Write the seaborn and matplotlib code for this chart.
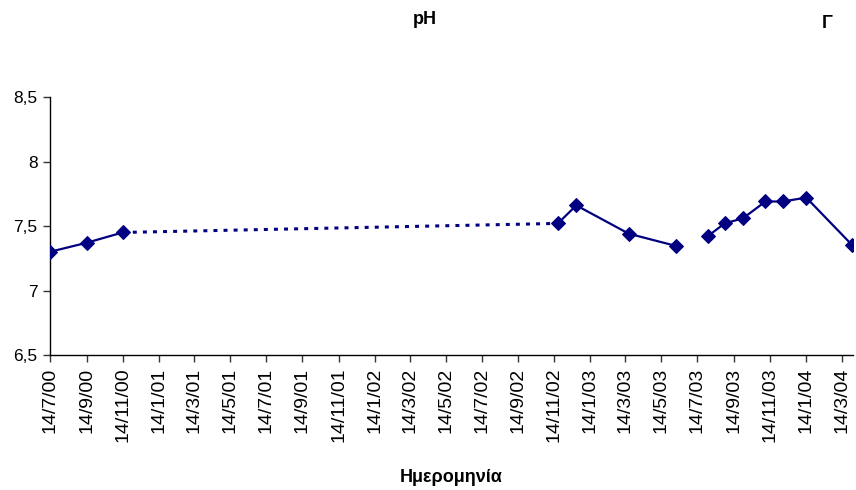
import matplotlib
matplotlib.use("Agg")
import matplotlib.pyplot as plt
import seaborn as sns
import pandas as pd

# pH measurements by sampling date
sample_dates = ["2000-07-14", "2000-09-14", "2000-11-14",
                "2002-11-20", "2002-12-21", "2003-03-20", "2003-06-08",
                "2003-07-31", "2003-08-29", "2003-09-29", "2003-11-06",
                "2003-12-05", "2004-01-14", "2004-04-01"]
ph_values = [7.30, 7.37, 7.45,
             7.52, 7.66, 7.44, 7.345,
             7.42, 7.52, 7.56, 7.69, 7.69, 7.72, 7.35]
# continuous runs of sampling (separate line pieces)
run_id = [1, 1, 1, 2, 2, 2, 2, 3, 3, 3, 3, 3, 3, 3]

# axis ticks: every two months on the 14th
tick_dates = ["2000-07-14", "2000-09-14", "2000-11-14", "2001-01-14", "2001-03-14",
              "2001-05-14", "2001-07-14", "2001-09-14", "2001-11-14", "2002-01-14",
              "2002-03-14", "2002-05-14", "2002-07-14", "2002-09-14", "2002-11-14",
              "2003-01-14", "2003-03-14", "2003-05-14", "2003-07-14", "2003-09-14",
              "2003-11-14", "2004-01-14", "2004-03-14"]
y_ticks = [6.5, 7.0, 7.5, 8.0, 8.5]
y_tick_labels = ["6,5", "7", "7,5", "8", "8,5"]

df = pd.DataFrame({"date": pd.to_datetime(sample_dates), "pH": ph_values, "run": run_id})
ticks = pd.to_datetime(tick_dates)

sns.set_style("white")
plt.rcParams["font.family"] = ["Liberation Sans", "DejaVu Sans"]
plt.rcParams["text.color"] = "black"
plt.rcParams["xtick.color"] = "black"
plt.rcParams["ytick.color"] = "black"

navy = "#000080"
fig = plt.figure(figsize=(8.56, 4.90), dpi=100)
ax = fig.add_axes([50 / 856, 1 - 355 / 490, 803 / 856, 258 / 490])

# dotted connector across the period without measurements
gap_pts = df[df["run"].isin([1, 2])].iloc[[2, 3]]
ax.plot(gap_pts["date"], gap_pts["pH"], color=navy, lw=2.2,
        linestyle=(0, (1.3, 2.0)), dash_capstyle="butt", zorder=2)

for r, part in df.groupby("run"):
    sns.lineplot(data=part, x="date", y="pH", ax=ax, color=navy, lw=1.6,
                 marker="D", markersize=7, markeredgecolor=navy,
                 markerfacecolor=navy, estimator=None, sort=False, zorder=3)

ax.set_xlim(df["date"].iloc[0], df["date"].iloc[-1] + pd.Timedelta(days=1))
ax.set_ylim(6.5, 8.5)
ax.set_yticks(y_ticks)
ax.set_yticklabels(y_tick_labels, fontsize=12.5, color="black")
ax.set_xticks(ticks)
ax.set_xticklabels([f"{d.day}/{d.month}/{d.year % 100:02d}" for d in ticks],
                   rotation=90, fontsize=14, color="black")

for side in ["top", "right"]:
    ax.spines[side].set_visible(False)
for side in ["left", "bottom"]:
    ax.spines[side].set_color("black")
    ax.spines[side].set_linewidth(1.0)
ax.tick_params(axis="both", direction="out", length=5, width=1, color="#333333",
               pad=4, left=True, bottom=True)
ax.set_xlabel("")
ax.set_ylabel("")

fig.text(425 / 856, 1 - 19 / 490, "pH", ha="center", va="center",
         fontsize=13, fontweight="bold", color="black")
fig.text(827 / 856, 1 - 24 / 490, "Γ", ha="center", va="center",
         fontsize=13, fontweight="bold", color="black")
fig.text(451 / 856, 1 - 477 / 490, "Ημερομηνία", ha="center", va="center",
         fontsize=13, fontweight="bold", color="black")

fig.savefig("out.png", dpi=100)
